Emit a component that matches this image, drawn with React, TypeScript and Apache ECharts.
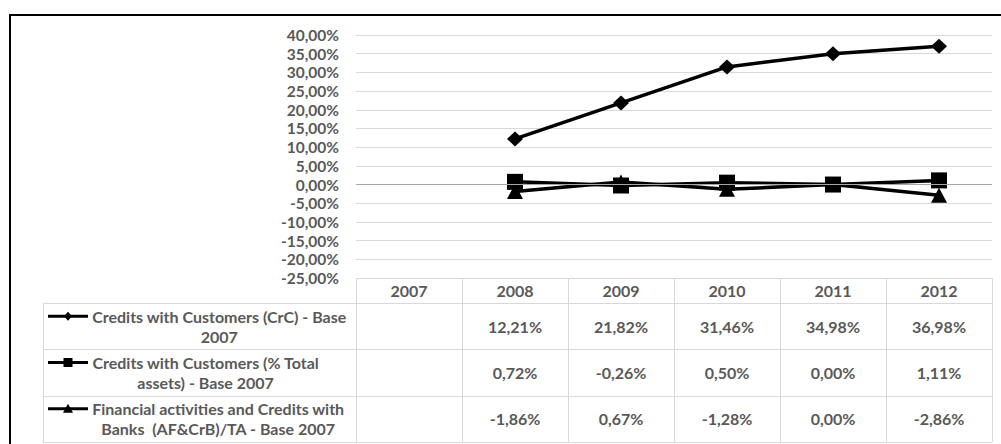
import React, { useEffect, useRef } from "react";
import * as echarts from "echarts";

// Years on the category axis / table header
const categories = ["2007", "2008", "2009", "2010", "2011", "2012"];

// Series values in percent (2007 is the base year, so it has no value)
const crcBase: (number | null)[] = [null, 12.21, 21.82, 31.46, 34.98, 36.98];
const crcTotalAssets: (number | null)[] = [null, 0.72, -0.26, 0.5, 0.0, 1.11];
const afCrbTotalAssets: (number | null)[] = [null, -1.86, 0.67, -1.28, 0.0, -2.86];

// Value axis range and step
const yMin = -25;
const yMax = 40;
const yStep = 5;

// Legend texts, split the way they wrap in the table's first column
const seriesNames = [
  "Credits with Customers (CrC) - Base 2007",
  "Credits with Customers (% Total assets) - Base 2007",
  "Financial activities and Credits with Banks  (AF&CrB)/TA - Base 2007",
];
const seriesLabelLines = [
  ["Credits with Customers (CrC) - Base", "2007"],
  ["Credits with Customers (% Total", "assets) - Base 2007"],
  ["Financial activities and Credits with", "Banks  (AF&CrB)/TA - Base 2007"],
];
const seriesSymbols = ["diamond", "rect", "triangle"];

const seriesData = [crcBase, crcTotalAssets, afCrbTotalAssets];

// Layout
const W = 1001;
const H = 444;
const GRID_LEFT = 356;
const GRID_RIGHT_X = 992;
const GRID_TOP = 35;
const GRID_BOTTOM_Y = 278;
const TABLE_LEFT = 43;
const HEADER_H = 25;
const ROW_H = (442 - (GRID_BOTTOM_Y + HEADER_H)) / 3;
const KEY_X0 = 48;
const KEY_X1 = 88;
const LABEL_X = 92;
const LINE_GAP = 20;

const FONT = "Lato";
const TEXT_COLOR = "#595959";
const TABLE_LINE = "#d9d9d9";
const FS_AXIS = 15.5;
const FS_TABLE = 16;

const fmtPct = (v: number | null) =>
  v == null ? "" : v.toFixed(2).replace(".", ",") + "%";

function measure(text: string, size: number) {
  const c = document.createElement("canvas").getContext("2d");
  if (!c) return text.length * size * 0.5;
  c.font = `bold ${size}px ${FONT}`;
  return c.measureText(text).width;
}

function buildTableGraphics() {
  const els: any[] = [];
  const colW = (GRID_RIGHT_X - GRID_LEFT) / categories.length;
  const rowsTop = GRID_BOTTOM_Y + HEADER_H;
  const tableBottom = rowsTop + ROW_H * seriesData.length;
  const line = (x1: number, y1: number, x2: number, y2: number) => ({
    type: "line",
    silent: true,
    shape: { x1, y1, x2, y2 },
    style: { stroke: TABLE_LINE, lineWidth: 1 },
  });

  // horizontal rules
  els.push(line(GRID_LEFT, GRID_BOTTOM_Y + 0.5, GRID_RIGHT_X, GRID_BOTTOM_Y + 0.5));
  for (let r = 0; r <= seriesData.length; r++) {
    const y = Math.round(rowsTop + r * ROW_H) + 0.5;
    els.push(line(TABLE_LEFT, y, GRID_RIGHT_X, y));
  }
  // vertical rules
  els.push(line(TABLE_LEFT + 0.5, rowsTop, TABLE_LEFT + 0.5, tableBottom));
  for (let c = 0; c <= categories.length; c++) {
    const x = Math.round(GRID_LEFT + c * colW) + 0.5;
    els.push(line(x, GRID_BOTTOM_Y, x, tableBottom));
  }

  // legend keys and wrapped series names
  seriesLabelLines.forEach((lines, r) => {
    const center = rowsTop + ROW_H * (r + 0.5);
    const y1 = center - LINE_GAP / 2;
    const blockW = Math.max(...lines.map((l) => measure(l, FS_TABLE)));
    const cx = LABEL_X + blockW / 2;
    lines.forEach((l, i) => {
      els.push({
        type: "text",
        silent: true,
        x: cx,
        y: y1 + i * LINE_GAP,
        style: {
          text: l,
          fill: TEXT_COLOR,
          font: `bold ${FS_TABLE}px ${FONT}`,
          align: "center",
          verticalAlign: "middle",
        },
      });
    });
    els.push({
      type: "line",
      silent: true,
      shape: { x1: KEY_X0, y1, x2: KEY_X1, y2: y1 },
      style: { stroke: "#000", lineWidth: 3 },
    });
    const mx = (KEY_X0 + KEY_X1) / 2;
    const sym = seriesSymbols[r];
    if (sym === "diamond") {
      els.push({
        type: "polygon",
        silent: true,
        shape: { points: [[mx - 4, y1], [mx, y1 - 4.5], [mx + 4, y1], [mx, y1 + 4.5]] },
        style: { fill: "#000" },
      });
    } else if (sym === "rect") {
      els.push({
        type: "rect",
        silent: true,
        shape: { x: mx - 4.5, y: y1 - 4.5, width: 9, height: 9 },
        style: { fill: "#000" },
      });
    } else {
      els.push({
        type: "polygon",
        silent: true,
        shape: { points: [[mx - 5, y1 + 4], [mx, y1 - 5], [mx + 5, y1 + 4]] },
        style: { fill: "#000" },
      });
    }
  });

  // outer frame
  els.push({
    type: "rect",
    silent: true,
    shape: { x: 10, y: 15, width: W, height: H },
    style: { fill: "none", stroke: "#000", lineWidth: 2 },
  });
  return els;
}

export default function App() {
  const ref = useRef<HTMLDivElement>(null);

  useEffect(() => {
    if (!ref.current) return;
    const chart = echarts.init(ref.current, undefined, { renderer: "svg" });

    const labelStyle = {
      color: TEXT_COLOR,
      fontWeight: "bold" as const,
      fontFamily: FONT,
      fontSize: FS_TABLE,
    };

    // header axis with the years, then one label-only axis per table row
    const xAxes: any[] = [
      {
        type: "category",
        data: categories,
        gridIndex: 0,
        position: "bottom",
        offset: HEADER_H / 2,
        axisLine: { show: false },
        axisTick: { show: false },
        axisLabel: { ...labelStyle, interval: 0, margin: 0, verticalAlign: "middle" },
      },
      ...seriesData.map((vals, r) => ({
        type: "category",
        data: categories,
        gridIndex: 0,
        position: "bottom",
        offset: HEADER_H + ROW_H * (r + 0.5),
        axisLine: { show: false },
        axisTick: { show: false },
        axisLabel: {
          ...labelStyle,
          interval: 0,
          margin: 0,
          verticalAlign: "middle",
          formatter: (_v: string, idx: number) => fmtPct(vals[idx]),
        },
      })),
    ];

    const symbolSizes: any[] = [[16, 15], 16, [16, 15]];

    chart.setOption({
      animation: false,
      grid: {
        left: GRID_LEFT,
        right: W - GRID_RIGHT_X,
        top: GRID_TOP,
        bottom: H - GRID_BOTTOM_Y,
        containLabel: false,
      },
      xAxis: xAxes,
      yAxis: {
        type: "value",
        min: yMin,
        max: yMax,
        interval: yStep,
        axisLine: { show: false },
        axisTick: { show: false },
        axisLabel: {
          color: TEXT_COLOR,
          fontWeight: "bold",
          fontFamily: FONT,
          fontSize: FS_AXIS,
          margin: 17,
          formatter: (v: number) => v.toFixed(2).replace(".", ",") + "%",
        },
        splitLine: { lineStyle: { color: TABLE_LINE, width: 1 } },
      },
      series: seriesData.map((vals, i) => ({
        name: seriesNames[i],
        type: "line",
        xAxisIndex: 0,
        data: vals,
        symbol: seriesSymbols[i],
        symbolSize: symbolSizes[i],
        showAllSymbol: true,
        lineStyle: { color: "#000", width: 3.5 },
        itemStyle: { color: "#000" },
        markLine:
          i === 0
            ? {
                silent: true,
                symbol: "none",
                label: { show: false },
                lineStyle: { color: "#a6a6a6", width: 1, type: "solid" },
                data: [{ yAxis: 0 }],
              }
            : undefined,
      })),
      graphic: buildTableGraphics(),
    });

    return () => chart.dispose();
  }, []);

  return (
    <div
      ref={ref}
      style={{ position: "fixed", left: 0, top: 0, width: W, height: H, background: "#fff" }}
    />
  );
}
